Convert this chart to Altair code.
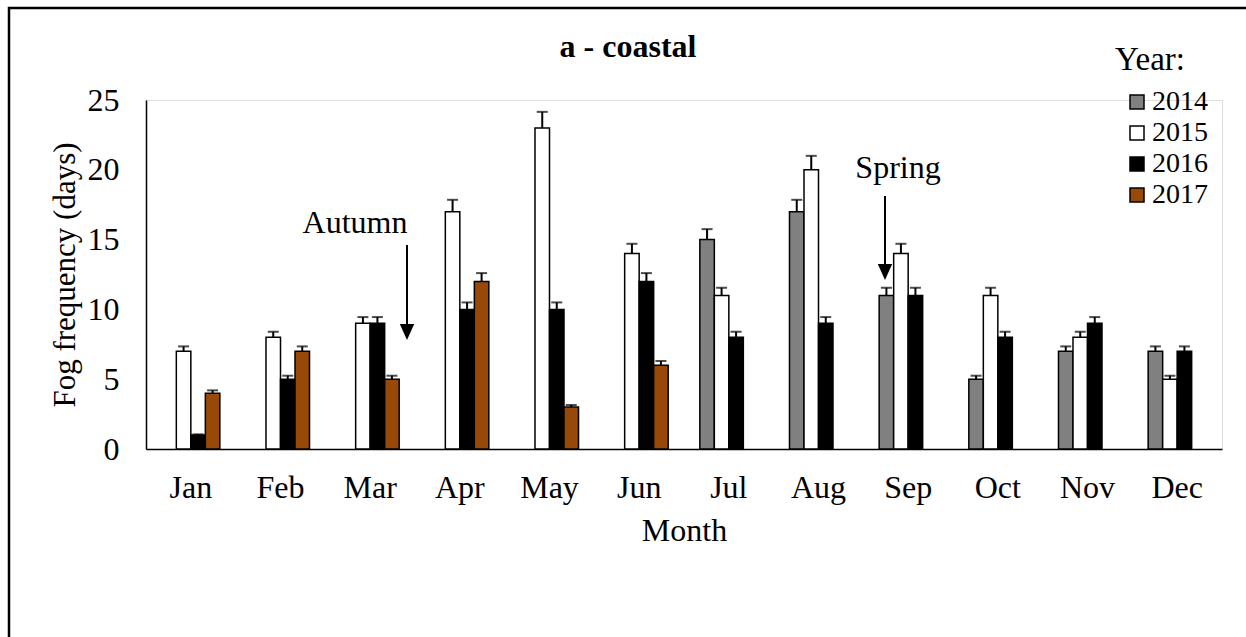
import altair as alt
import pandas as pd

SERIF = "Liberation Serif"

months = ["Jan", "Feb", "Mar", "Apr", "May", "Jun",
          "Jul", "Aug", "Sep", "Oct", "Nov", "Dec"]
years = ["2014", "2015", "2016", "2017"]
year_colors = ["#808080", "#FFFFFF", "#000000", "#984807"]

# Monthly fog days per year (None = no record for that month)
fog_2014 = [None, None, None, None, None, None, 15, 17, 11, 5, 7, 7]
fog_2015 = [7, 8, 9, 17, 23, 14, 11, 20, 14, 11, 8, 5]
fog_2016 = [1, 5, 9, 10, 10, 12, 8, 9, 11, 8, 9, 7]
fog_2017 = [4, 7, 5, 12, 3, 6, None, None, None, None, None, None]

# Upper error bar lengths
err_2014 = [None, None, None, None, None, None, 0.75, 0.85, 0.55, 0.25, 0.35, 0.35]
err_2015 = [0.35, 0.4, 0.45, 0.85, 1.15, 0.7, 0.55, 1.0, 0.7, 0.55, 0.4, 0.25]
err_2016 = [0.05, 0.25, 0.45, 0.5, 0.5, 0.6, 0.4, 0.45, 0.55, 0.4, 0.45, 0.35]
err_2017 = [0.2, 0.35, 0.25, 0.6, 0.15, 0.3, None, None, None, None, None, None]

series = {
    "2014": (fog_2014, err_2014),
    "2015": (fog_2015, err_2015),
    "2016": (fog_2016, err_2016),
    "2017": (fog_2017, err_2017),
}

rows = []
for year, (vals, errs) in series.items():
    for month, v, e in zip(months, vals, errs):
        if v is None:
            continue
        rows.append({"month": month, "year": year, "days": v, "top": v + e})
df = pd.DataFrame(rows)

x_enc = alt.X(
    "month:N",
    sort=months,
    scale=alt.Scale(domain=months, paddingInner=0.353, paddingOuter=0.1765),
    axis=alt.Axis(
        title="Month", labelAngle=0, ticks=False, grid=False,
        domainColor="black", domainWidth=1.5,
        labelFont=SERIF, labelFontSize=32, labelColor="black", labelPadding=23,
        titleFont=SERIF, titleFontSize=32, titleFontWeight="normal",
        titleColor="black", titlePadding=12,
    ),
)
offset_enc = alt.XOffset("year:N", scale=alt.Scale(domain=years))
y_scale = alt.Scale(domain=[0, 25], nice=False)

base = alt.Chart(df).encode(x=x_enc, xOffset=offset_enc)

bars = base.mark_bar(stroke="black", strokeWidth=1.5).encode(
    y=alt.Y(
        "days:Q", scale=y_scale,
        axis=alt.Axis(
            title="Fog frequency (days)", values=[0, 5, 10, 15, 20, 25],
            ticks=False, grid=False, domainColor="black", domainWidth=1.5,
            labelFont=SERIF, labelFontSize=32, labelColor="black", labelPadding=27,
            titleFont=SERIF, titleFontSize=31, titleFontWeight="normal",
            titleColor="#000000", titlePadding=6,
        ),
    ),
    fill=alt.Fill(
        "year:N",
        scale=alt.Scale(domain=years, range=year_colors),
        legend=alt.Legend(
            title=None, orient="none", legendX=977, legendY=-12,
            symbolType="square", symbolSize=196, symbolStrokeColor="black",
            symbolStrokeWidth=1.5, symbolOpacity=1,
            labelFont=SERIF, labelFontSize=28, labelColor="black",
            labelOffset=1, rowPadding=3, padding=0,
        ),
    ),
)

err_stem = base.mark_rule(color="black", strokeWidth=2).encode(
    y=alt.Y("days:Q", scale=y_scale), y2="top:Q"
)
err_cap = base.mark_tick(color="black", size=11, thickness=2).encode(
    y=alt.Y("top:Q", scale=y_scale)
)

one = pd.DataFrame({"k": [0]})


def text_at(text, x, y, size=32, weight="normal"):
    return alt.Chart(one).mark_text(
        text=text, font=SERIF, fontSize=size, fontWeight=weight,
        color="black", align="center", baseline="alphabetic",
    ).encode(x=alt.value(x), y=alt.value(y))


def arrow(x, y_top, y_tip):
    stem = alt.Chart(one).mark_rule(color="black", strokeWidth=2).encode(
        x=alt.value(x), y=alt.value(y_top), y2=alt.value(y_tip - 10)
    )
    head = alt.Chart(one).mark_point(
        shape="M-0.9,-1L0.9,-1L0,1Z", filled=True, color="black",
        opacity=1, size=256,
    ).encode(x=alt.value(x), y=alt.value(y_tip - 8))
    return stem + head


frame = alt.Chart(one).mark_rect(
    fillOpacity=0, stroke="black", strokeWidth=2.5
).encode(
    x=alt.value(-137), x2=alt.value(1120), y=alt.value(-92), y2=alt.value(560)
)

chart = alt.layer(
    frame,
    bars,
    err_stem,
    err_cap,
    arrow(261, 145, 240),
    arrow(739, 96, 180),
    text_at("Autumn", 209, 133),
    text_at("Spring", 752, 78),
    text_at("a - coastal", 482, -43, weight="bold"),
    text_at("Year:", 1004, -30, size=33),
).properties(
    width=1076, height=349,
    autosize=alt.AutoSizeParams(type="none"),
    padding={"left": 146, "top": 100, "right": 24, "bottom": 188},
).configure_view(stroke=None).configure_legend(
    labelFont=SERIF
).configure(background="white", font=SERIF)

chart.save("out.html", embed_options={"renderer": "svg", "actions": False})
